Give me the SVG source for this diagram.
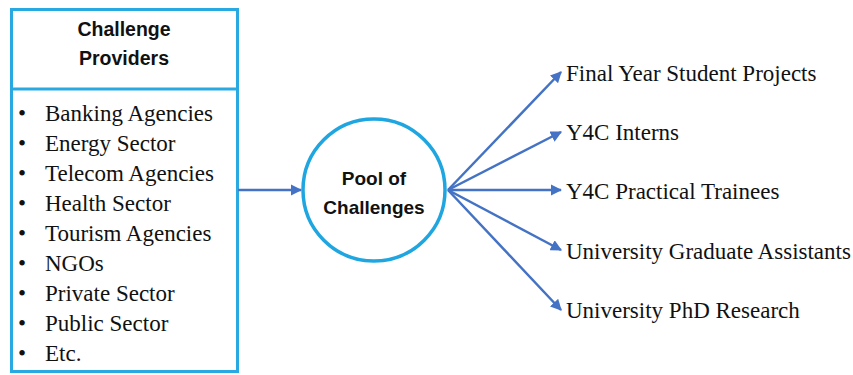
<svg xmlns="http://www.w3.org/2000/svg" width="853" height="375" viewBox="0 0 853 375">
<defs>
<style>
.box{fill:#fff;stroke:#29a9e1;stroke-width:3}
.hdr{font-family:"Liberation Sans",Arial,sans-serif;font-weight:bold;font-size:19.5px;fill:#111;text-anchor:middle}
.item{font-family:"Liberation Serif","Times New Roman",serif;font-size:23px;fill:#111}
.conn{stroke:#4472c4;stroke-width:2.5;fill:none;marker-end:url(#ah)}
</style>
<marker id="ah" viewBox="0 0 10 10" refX="9" refY="5" markerWidth="4.5" markerHeight="4.5" orient="auto" markerUnits="strokeWidth">
<path d="M0,0 L10,5 L0,10 z" fill="#4472c4"/>
</marker>
</defs>
<rect width="853" height="375" fill="#fff"/>
<g id="providers">
<rect class="box" x="11.5" y="9.5" width="226" height="362"/>
<line x1="11.5" y1="89" x2="237.5" y2="89" stroke="#29a9e1" stroke-width="3"/>
<text class="hdr" x="124" y="36">Challenge</text>
<text class="hdr" x="124" y="65">Providers</text>
<g class="item">
<text x="18" y="121">•</text><text x="45" y="121">Banking Agencies</text>
<text x="18" y="151">•</text><text x="45" y="151">Energy Sector</text>
<text x="18" y="181">•</text><text x="45" y="181">Telecom Agencies</text>
<text x="18" y="211">•</text><text x="45" y="211">Health Sector</text>
<text x="18" y="241">•</text><text x="45" y="241">Tourism Agencies</text>
<text x="18" y="271">•</text><text x="45" y="271">NGOs</text>
<text x="18" y="301">•</text><text x="45" y="301">Private Sector</text>
<text x="18" y="331">•</text><text x="45" y="331">Public Sector</text>
<text x="18" y="361">•</text><text x="45" y="361">Etc.</text>
</g>
</g>
<g id="pool">
<circle cx="374" cy="190" r="71" fill="#fff" stroke="#1fa6e0" stroke-width="3.5"/>
<text class="hdr" x="374" y="185" style="font-size:19px">Pool of</text>
<text class="hdr" x="374" y="214" style="font-size:19px">Challenges</text>
</g>
<g id="targets" class="item">
<text x="566" y="81">Final Year Student Projects</text>
<text x="566" y="140">Y4C Interns</text>
<text x="566" y="199">Y4C Practical Trainees</text>
<text x="566" y="259">University Graduate Assistants</text>
<text x="566" y="318">University PhD Research</text>
</g>
<g id="connectors">
<line class="conn" x1="238" y1="190" x2="301" y2="190"/>
<line class="conn" x1="448" y1="190" x2="561" y2="72"/>
<line class="conn" x1="448" y1="190" x2="561" y2="132"/>
<line class="conn" x1="448" y1="190" x2="561" y2="190"/>
<line class="conn" x1="448" y1="190" x2="561" y2="250"/>
<line class="conn" x1="448" y1="190" x2="561" y2="310"/>
</g>
</svg>
